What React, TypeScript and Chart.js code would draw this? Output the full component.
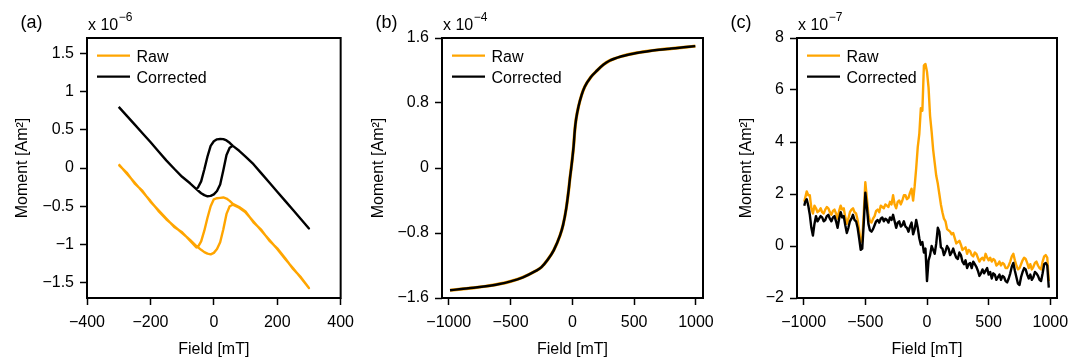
import React, { useEffect, useRef } from 'react';
import { Chart, registerables } from 'chart.js';

Chart.register(...registerables);

const FONT = "'Liberation Sans', Arial, Helvetica, sans-serif";
const ORANGE = '#FFA500';

// ---------- Panel (a): hysteresis loop, x 10^-6 Am^2 ----------
const aField = [
  -300, -275, -250, -225, -200, -175, -150, -125, -100, -75, -55, -40, -30, -20, -10, 0, 10, 20, 30, 40, 50, 60, 80, 100, 125, 150, 175, 200, 225, 250, 275, 300,
  275, 250, 225, 200, 175, 150, 125, 100, 80, 60, 50, 40, 30, 20, 10, 0, -10, -20, -30, -40, -50, -55, -75, -100, -125, -150, -175, -200, -225, -250, -275, -300,
];
const aRaw = [
  0.05, -0.07, -0.19, -0.31, -0.43, -0.56, -0.67, -0.76, -0.85, -0.94, -1.02, -1.07, -1.1, -1.12, -1.13, -1.11, -1.06, -0.97, -0.8, -0.6, -0.5, -0.48, -0.52, -0.58, -0.7, -0.82, -0.94, -1.06, -1.19, -1.31, -1.44, -1.57,
  -1.43, -1.32, -1.18, -1.05, -0.95, -0.81, -0.71, -0.57, -0.51, -0.47, -0.43, -0.4, -0.385, -0.39, -0.395, -0.41, -0.5, -0.65, -0.82, -0.96, -1.03, -1.04, -0.95, -0.84, -0.77, -0.66, -0.55, -0.44, -0.3, -0.2, -0.06, 0.04,
];
const aCorrected = [
  0.8, 0.685, 0.57, 0.455, 0.34, 0.22, 0.1, -0.01, -0.115, -0.2, -0.275, -0.33, -0.355, -0.37, -0.365, -0.345, -0.3, -0.215, -0.03, 0.17, 0.265, 0.29, 0.225, 0.15, 0.05, -0.07, -0.19, -0.31, -0.43, -0.55, -0.67, -0.79,
  -0.67, -0.55, -0.43, -0.31, -0.19, -0.07, 0.05, 0.15, 0.225, 0.29, 0.33, 0.36, 0.378, 0.38, 0.375, 0.35, 0.29, 0.15, -0.02, -0.175, -0.255, -0.275, -0.2, -0.115, -0.01, 0.1, 0.22, 0.34, 0.455, 0.57, 0.685, 0.8,
];
const aXTicks = [-400, -200, 0, 200, 400];
const aYTicks = [-1.5, -1, -0.5, 0, 0.5, 1, 1.5];

// ---------- Panel (b): S-curve, x 10^-4 Am^2 ----------
const bField = [-990, -900, -800, -700, -600, -500, -400, -300, -250, -200, -150, -100, -75, -50, -30, -20, -10, 0, 10, 20, 30, 50, 75, 100, 150, 200, 250, 300, 400, 500, 600, 700, 800, 900, 995];
const bRaw = [-1.505, -1.49, -1.475, -1.455, -1.43, -1.395, -1.345, -1.27, -1.22, -1.13, -1.01, -0.83, -0.7, -0.5, -0.27, -0.13, -0.01, 0.12, 0.27, 0.47, 0.6, 0.76, 0.9, 1.0, 1.12, 1.2, 1.27, 1.32, 1.375, 1.41, 1.435, 1.455, 1.47, 1.485, 1.5];
const bCorrected = [-1.505, -1.49, -1.475, -1.455, -1.43, -1.395, -1.345, -1.27, -1.22, -1.13, -1.01, -0.83, -0.7, -0.5, -0.27, -0.13, -0.01, 0.12, 0.27, 0.47, 0.6, 0.76, 0.9, 1.0, 1.12, 1.2, 1.27, 1.32, 1.375, 1.41, 1.435, 1.455, 1.47, 1.485, 1.5];
const bXTicks = [-1000, -500, 0, 500, 1000];
const bYTicks = [-1.6, -0.8, 0, 0.8, 1.6];

// ---------- Panel (c): noisy residual, x 10^-7 Am^2 ----------
const cField = [
  -995, -987.5, -975, -962.5, -950, -937.5, -925, -912.5, -900, -887.5, -875, -862.5, -850, -837.5, -825, -812.5,
  -800, -787.5, -775, -762.5, -750, -737.5, -725, -712.5, -700, -687.5, -675, -662.5, -650, -637.5, -625, -612.5,
  -600, -587.5, -575, -562.5, -550, -537.5, -525, -512.5, -500, -487.5, -475, -462.5, -450, -437.5, -425, -412.5,
  -400, -387.5, -375, -362.5, -350, -337.5, -325, -312.5, -300, -287.5, -275, -262.5, -250, -237.5, -225, -212.5,
  -200, -187.5, -175, -162.5, -150, -137.5, -125, -112.5, -100, -87.5, -75, -62.5, -50, -37.5, -25, -12.5,
  0, 12.5, 25, 37.5, 50, 62.5, 75, 87.5, 100, 112.5, 125, 137.5, 150, 162.5, 175, 187.5,
  200, 212.5, 225, 237.5, 250, 262.5, 275, 287.5, 300, 312.5, 325, 337.5, 350, 362.5, 375, 387.5,
  400, 412.5, 425, 437.5, 450, 462.5, 475, 487.5, 500, 512.5, 525, 537.5, 550, 562.5, 575, 587.5,
  600, 612.5, 625, 637.5, 650, 662.5, 675, 687.5, 700, 712.5, 725, 737.5, 750, 762.5, 775, 787.5,
  800, 812.5, 825, 837.5, 850, 862.5, 875, 887.5, 900, 912.5, 925, 937.5, 950, 962.5, 975, 987.5,
];
const cRaw = [
  1.7, 1.85, 2.1, 1.95, 1.95, 1.45, 1.25, 1.55, 1.45, 1.3, 1.35, 1.45, 1.3, 1.25, 1.4, 1.5,
  1.45, 1.3, 1.2, 1.35, 1.4, 1.25, 1.05, 1.35, 1.55, 1.4, 1.45, 1.1, 0.85, 1.05, 1.3, 1.4,
  1.45, 1.3, 1.25, 1.0, 0.6, 0.15, 0.2, 1.3, 2.45, 1.85, 1.2, 0.95, 0.9, 1.05, 1.15, 1.35,
  1.4, 1.3, 1.55, 1.5, 1.45, 1.6, 1.55, 1.5, 1.7, 1.6, 1.95, 1.6, 1.45, 1.7, 1.75, 1.6,
  1.75, 1.95, 1.95, 1.8, 1.85, 2.05, 2.2, 1.75, 2.3, 3.0, 3.8, 4.3, 5.3, 5.2, 6.95, 7.0,
  6.7, 6.1, 5.0, 4.4, 3.7, 3.2, 2.7, 2.4, 2.0, 1.6, 1.3, 1.05, 0.95, 0.65, 0.6, 0.55,
  0.45, 0.5, 0.3, 0.1, 0.15, 0.2, 0.05, -0.15, -0.1, -0.05, -0.3, -0.15, -0.2, -0.35, -0.4, -0.25,
  -0.3, -0.45, -0.6, -0.5, -0.45, -0.55, -0.3, -0.45, -0.55, -0.45, -0.6, -0.5, -0.55, -0.75, -0.7, -0.6,
  -0.75, -0.65, -0.7, -0.85, -0.85, -0.75, -0.6, -0.4, -0.3, -0.55, -0.75, -0.9, -0.85, -0.7, -0.55, -0.45,
  -0.5, -0.65, -0.85, -0.7, -0.9, -0.8, -0.65, -0.6, -0.75, -0.85, -0.9, -0.6, -0.4, -0.35, -0.45, -1.35,
];
const cCorrected = [
  1.55, 1.7, 1.8, 1.55, 1.2, 0.7, 0.4, 0.85, 1.15, 0.95, 1.05, 1.15, 1.1, 0.95, 1.0, 1.15,
  1.2, 1.05, 0.95, 1.1, 1.15, 0.95, 0.7, 1.05, 1.3, 1.1, 1.15, 0.8, 0.5, 0.7, 0.95, 1.05,
  1.2, 1.0, 0.95, 0.7, 0.3, -0.15, -0.1, 0.9, 2.05, 1.5, 0.85, 0.6, 0.55, 0.65, 0.8, 0.95,
  1.0, 0.9, 1.05, 1.1, 0.95, 1.05, 1.0, 0.9, 1.1, 1.0, 1.2, 0.95, 0.7, 0.9, 0.95, 0.75,
  0.8, 0.95, 0.75, 0.7, 0.55, 0.75, 0.9, 0.45, 0.65, 1.0, 0.7, 0.3, 0.05, 0.15, -0.25, -0.1,
  -1.35, -0.55, -0.35, 0.0, -0.15, -0.3, 0.1, 0.7, 0.55, -0.05, -0.1, -0.35, -0.2, 0.0, -0.1, -0.35,
  -0.25, -0.1, -0.3, -0.45, -0.5, -0.25, -0.35, -0.6, -0.7, -0.55, -0.85, -0.7, -0.65, -0.85, -0.6, -0.7,
  -0.8, -0.95, -1.15, -1.05, -0.9, -1.05, -0.95, -0.85, -1.1, -1.0, -1.25, -1.05, -1.1, -1.3, -1.2, -1.1,
  -1.3, -1.15, -1.2, -1.35, -1.4, -1.25, -1.05, -0.8, -0.65, -0.95, -1.2, -1.45, -1.5, -1.2, -1.0, -0.85,
  -0.9, -1.1, -1.25, -1.1, -1.3, -1.2, -1.0, -1.05, -1.15, -1.3, -1.35, -1.05, -0.7, -0.65, -0.75, -1.6,
];
const cXTicks = [-1000, -500, 0, 500, 1000];
const cYTicks = [-2, 0, 2, 4, 6, 8];

const LEGEND_LABELS = ['Raw', 'Corrected'];

type PanelDef = {
  left: number;
  yAxisWidth: number;
  padRight: number;
  xMin: number;
  xMax: number;
  yMin: number;
  yMax: number;
  xTicks: number[];
  yTicks: number[];
  field: number[];
  raw: number[];
  corrected: number[];
  label: string;
  exp: string;
  yTitlePad: number;
  mono: boolean;
  rawWidth: number;
  corrWidth: number;
};

const PANELS: PanelDef[] = [
  { left: 0, yAxisWidth: 87, padRight: 15, xMin: -400, xMax: 400, yMin: -1.7, yMax: 1.7, xTicks: aXTicks, yTicks: aYTicks, field: aField, raw: aRaw, corrected: aCorrected, label: '(a)', exp: '\u22126', yTitlePad: 12.5, mono: false, rawWidth: 2.4, corrWidth: 2.4 },
  { left: 362, yAxisWidth: 80, padRight: 21, xMin: -1055, xMax: 1057, yMin: -1.6, yMax: 1.6, xTicks: bXTicks, yTicks: bYTicks, field: bField, raw: bRaw, corrected: bCorrected, label: '(b)', exp: '\u22124', yTitlePad: 6.5, mono: true, rawWidth: 3.2, corrWidth: 2.5 },
  { left: 724, yAxisWidth: 73, padRight: 29, xMin: -1054, xMax: 1054, yMin: -2, yMax: 8, xTicks: cXTicks, yTicks: cYTicks, field: cField, raw: cRaw, corrected: cCorrected, label: '(c)', exp: '\u22127', yTitlePad: 12.5, mono: false, rawWidth: 2.4, corrWidth: 2.4 },
];

const fmt = (v: number) => String(v).replace('-', '\u2212');

const decorPlugin = {
  id: 'decor',
  afterDraw(chart: any) {
    const opts = chart.options.plugins.decor || {};
    const { ctx, chartArea } = chart;
    const { left, top, right, bottom } = chartArea;
    ctx.save();
    // frame
    ctx.strokeStyle = '#000';
    ctx.lineWidth = 2;
    ctx.strokeRect(left, top, right - left, bottom - top);
    // legend
    ctx.textBaseline = 'alphabetic';
    ctx.textAlign = 'left';
    chart.data.datasets.forEach((ds: any, i: number) => {
      const y = top + 17.7 + i * 21;
      ctx.strokeStyle = ds.borderColor;
      ctx.lineWidth = 2.2;
      ctx.beginPath();
      ctx.moveTo(left + 10, y);
      ctx.lineTo(left + 43, y);
      ctx.stroke();
      ctx.fillStyle = '#000';
      ctx.font = `16px ${FONT}`;
      ctx.fillText(ds.label, left + 49.5, y + 6);
    });
    // panel label
    ctx.font = `18px ${FONT}`;
    ctx.fillStyle = '#000';
    ctx.fillText(opts.label, left - 66.5, 28);
    // exponent
    ctx.font = `16px ${FONT}`;
    const base = 'x 10';
    ctx.fillText(base, left + 1, 29.5);
    const w = ctx.measureText(base).width;
    ctx.font = `12px ${FONT}`;
    ctx.fillText(opts.exp, left + 1 + w + 0.5, 20.7);
    ctx.restore();
  },
};

function makeConfig(p: PanelDef): any {
  const pts = (ys: number[]) => p.field.map((x, i) => ({ x, y: ys[i] }));
  const tickFont = { size: 16, family: FONT };
  const grid = { drawOnChartArea: false, drawTicks: true, tickLength: 7, tickWidth: 1.5, tickColor: '#000' };
  return {
    type: 'line',
    data: {
      datasets: [
        { label: LEGEND_LABELS[0], data: pts(p.raw), borderColor: ORANGE, backgroundColor: ORANGE, borderWidth: p.rawWidth, pointRadius: 0, tension: 0, cubicInterpolationMode: p.mono ? 'monotone' : 'default', fill: false, order: 2, borderJoinStyle: 'round' },
        { label: LEGEND_LABELS[1], data: pts(p.corrected), borderColor: '#000', backgroundColor: '#000', borderWidth: p.corrWidth, pointRadius: 0, tension: 0, cubicInterpolationMode: p.mono ? 'monotone' : 'default', fill: false, order: 1, borderJoinStyle: 'round' },
      ],
    },
    options: {
      animation: false,
      responsive: false,
      events: [],
      layout: { padding: { left: 0, top: 38, right: p.padRight, bottom: 0 } },
      plugins: {
        legend: { display: false },
        tooltip: { enabled: false },
        decor: { label: p.label, exp: p.exp },
      },
      scales: {
        x: {
          type: 'linear',
          min: p.xMin,
          max: p.xMax,
          afterFit: (s: any) => { s.height = 66; },
          afterBuildTicks: (s: any) => { s.ticks = p.xTicks.map((v) => ({ value: v })); },
          ticks: { font: tickFont, color: '#000', padding: 8, maxRotation: 0, autoSkip: false, callback: (v: any) => fmt(Number(v)) },
          grid,
          border: { display: false },
          title: { display: true, text: 'Field [mT]', color: '#000', font: { size: 16, family: FONT }, padding: { top: 0, bottom: 5 } },
        },
        y: {
          type: 'linear',
          min: p.yMin,
          max: p.yMax,
          afterFit: (s: any) => { s.width = p.yAxisWidth; },
          afterBuildTicks: (s: any) => { s.ticks = p.yTicks.map((v) => ({ value: v })); },
          ticks: { font: tickFont, color: '#000', padding: 6, autoSkip: false, callback: (v: any) => fmt(Number(v)) },
          grid,
          border: { display: false },
          title: { display: true, text: 'Moment [Am\u00B2]', color: '#000', font: { size: 16, family: FONT }, padding: { top: p.yTitlePad, bottom: 0 } },
        },
      },
    },
    plugins: [decorPlugin],
  };
}

function Panel({ def }: { def: PanelDef }) {
  const ref = useRef<HTMLCanvasElement>(null);
  useEffect(() => {
    const chart = new Chart(ref.current as HTMLCanvasElement, makeConfig(def));
    return () => chart.destroy();
  }, [def]);
  return (
    <canvas
      ref={ref}
      width={362}
      height={364}
      style={{ position: 'absolute', left: def.left, top: 0, width: 362, height: 364 }}
    />
  );
}

export default function App() {
  return (
    <div style={{ position: 'absolute', left: 0, top: 0, width: 1086, height: 364, background: '#fff', overflow: 'hidden' }}>
      {PANELS.map((d) => (
        <Panel key={d.label} def={d} />
      ))}
    </div>
  );
}
